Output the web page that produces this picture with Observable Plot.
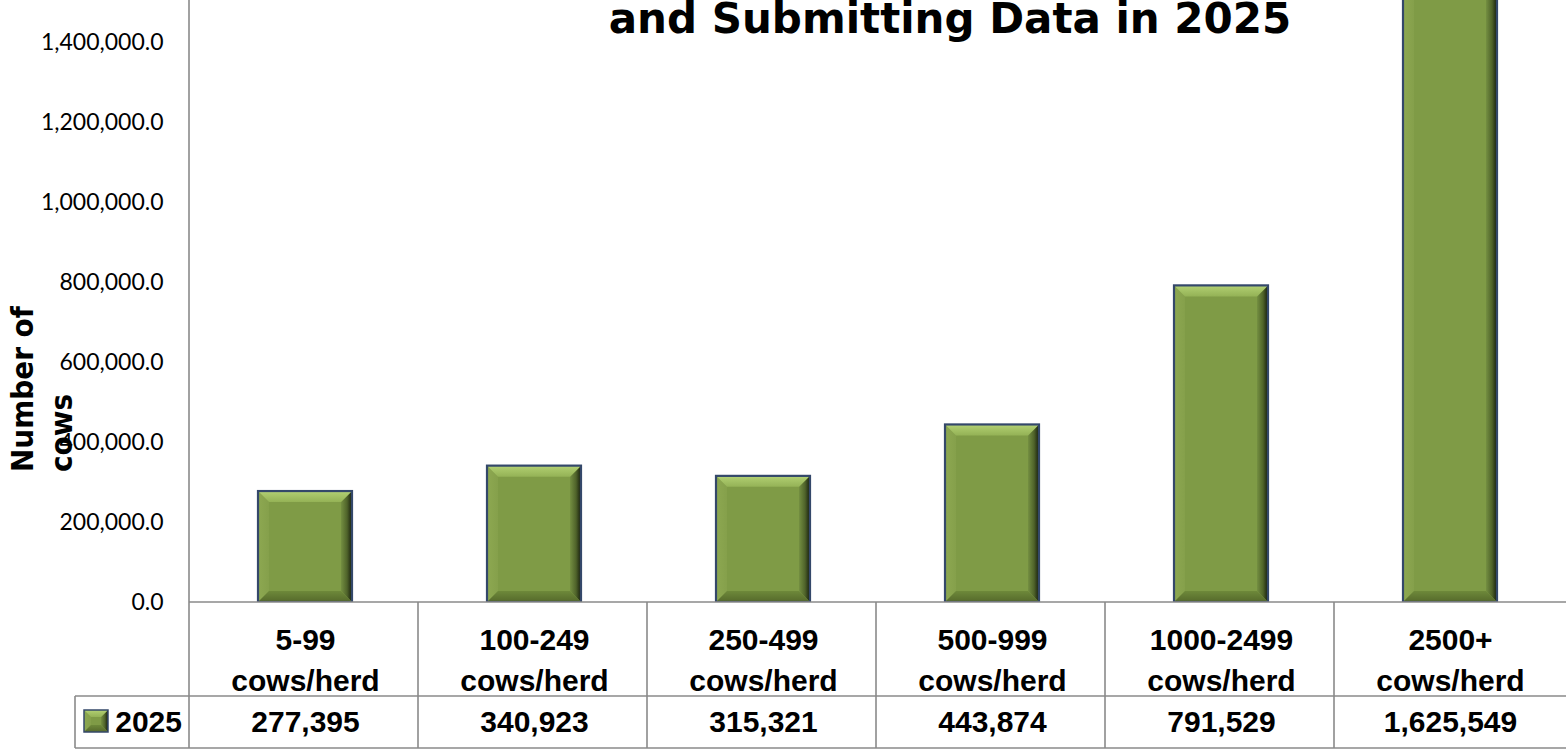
<!DOCTYPE html>
<html><head><meta charset="utf-8">
<script src="https://cdn.jsdelivr.net/npm/d3@7"></script>
<script src="https://cdn.jsdelivr.net/npm/@observablehq/plot@0.6"></script>
<style>
html,body{margin:0;padding:0;background:#fff;overflow:hidden;}
#chart svg{display:block;}
</style></head><body><div id="chart"></div>
<script>
// ---- data ----
const categories = ["5-99 cows/herd", "100-249 cows/herd", "250-499 cows/herd", "500-999 cows/herd", "1000-2499 cows/herd", "2500+ cows/herd"];
const categoryLabels = ["5-99\ncows/herd", "100-249\ncows/herd", "250-499\ncows/herd", "500-999\ncows/herd", "1000-2499\ncows/herd", "2500+\ncows/herd"];
const values2025 = [277395, 340923, 315321, 443874, 791529, 1625549];
const seriesName = "2025";
const yTicks = [0, 200000, 400000, 600000, 800000, 1000000, 1200000, 1400000];
const titleText = "and Submitting Data in 2025";
const yAxisTitle = ["Number of", "cows"];

const data = categories.map((c, i) => ({category: c, label: categoryLabels[i], value: values2025[i]}));
const W = 1566, H = 749;
const fmtTick = d3.format(",.1f"), fmtVal = d3.format(",");
const tableFont = "'Liberation Sans', Arial, sans-serif";

const plot = Plot.plot({
  width: W, height: H,
  marginLeft: 189, marginRight: 0, marginTop: 0, marginBottom: 147,
  style: {background: "#fff", overflow: "hidden"},
  x: {domain: categories, paddingInner: 0.59, paddingOuter: 0.295, axis: null},
  y: {domain: [0, 1505000]},
  marks: [
    Plot.axisY({ticks: yTicks, tickSize: 0, tickPadding: 26, tickFormat: fmtTick, label: null,
      fontSize: 23, fontFamily: "Lato, 'Open Sans', sans-serif", fill: "#000"}),
    Plot.barY(data, {x: "category", y: "value", fill: "#7f9b46", clip: true}),
    Plot.barY(data, {x: "category", y: "value", fill: "none", stroke: "#34486a", strokeWidth: 2.2, clip: true}),
    Plot.text(data, {x: "category", text: "label", frameAnchor: "bottom", lineAnchor: "top", dy: 18, lineHeight: 1.367,
      fontSize: 30, fontWeight: "bold", fontFamily: tableFont, fill: "#000"}),
    Plot.text(data, {x: "category", text: d => fmtVal(d.value), frameAnchor: "bottom", lineAnchor: "middle", dy: 120,
      fontSize: 30, fontWeight: "bold", fontFamily: tableFont, fill: "#000"})
  ]
});

document.getElementById("chart").appendChild(plot);
const svg = d3.select(plot);

// gradients for the bevelled bars
const defs = svg.insert("defs", ":first-child");
function grad(id, vertical, stops) {
  const g = defs.append("linearGradient").attr("id", id)
    .attr("x1", 0).attr("y1", 0).attr("x2", vertical ? 0 : 1).attr("y2", vertical ? 1 : 0);
  stops.forEach(([o, c]) => g.append("stop").attr("offset", o).attr("stop-color", c));
}
grad("bvTop", true, [[0, "#b6d378"], [0.3, "#a9c76a"], [1, "#94b256"]]);
grad("bvRight", false, [[0, "#748f41"], [0.55, "#4f632a"], [1, "#161d0c"]]);
grad("bvBottom", true, [[0, "#6e893a"], [1, "#55692b"]]);
grad("bvLeft", false, [[0, "#8da851"], [1, "#85a04b"]]);

function bevel(parent, x, y, w, h, b) {
  const P = pts => pts.map(p => p.join(",")).join(" ");
  parent.append("polygon").attr("points", P([[x, y], [x + b, y + b], [x + b, y + h - b], [x, y + h]])).attr("fill", "url(#bvLeft)");
  parent.append("polygon").attr("points", P([[x + w, y], [x + w, y + h], [x + w - b, y + h - b], [x + w - b, y + b]])).attr("fill", "url(#bvRight)");
  parent.append("polygon").attr("points", P([[x, y + h], [x + b, y + h - b], [x + w - b, y + h - b], [x + w, y + h]])).attr("fill", "url(#bvBottom)");
  parent.append("polygon").attr("points", P([[x, y], [x + w, y], [x + w - b, y + b], [x + b, y + b]])).attr("fill", "url(#bvTop)");
}

const barG = svg.select('g[aria-label="bar"]');
barG.selectAll("rect").each(function() {
  const r = d3.select(this);
  const x = +r.attr("x"), y = +r.attr("y"), w = +r.attr("width"), h = +r.attr("height");
  bevel(barG, x, y, w, h, 11);
});

// data-table grid, derived from Plot's scales
const sx = plot.scale("x");
const y0 = plot.scale("y").apply(0);
const x0 = sx.range[0], step = sx.step;
const rowTop = y0 + 94, rowBottom = y0 + 146, tableLeft = 75;
const grid = svg.append("g").attr("stroke", "#8a8a8a").attr("stroke-width", 1.6).attr("fill", "none");
grid.append("line").attr("x1", x0).attr("x2", x0).attr("y1", 0).attr("y2", rowBottom);
categories.slice(0, -1).forEach((c, i) => {
  const xe = x0 + (i + 1) * step;
  grid.append("line").attr("x1", xe).attr("x2", xe).attr("y1", y0).attr("y2", rowBottom);
});
grid.append("line").attr("x1", x0).attr("x2", W).attr("y1", y0).attr("y2", y0);
grid.append("line").attr("x1", tableLeft).attr("x2", W).attr("y1", rowTop).attr("y2", rowTop);
grid.append("line").attr("x1", tableLeft).attr("x2", W).attr("y1", rowBottom).attr("y2", rowBottom);
grid.append("line").attr("x1", tableLeft).attr("x2", tableLeft).attr("y1", rowTop).attr("y2", rowBottom);

// legend key + series name in the table
const key = svg.append("g");
key.append("rect").attr("x", 84).attr("y", rowTop + 14).attr("width", 24).attr("height", 22).attr("fill", "#7f9b46");
bevel(key, 84, rowTop + 14, 24, 22, 7);
key.append("rect").attr("x", 84).attr("y", rowTop + 14).attr("width", 24).attr("height", 22)
  .attr("fill", "none").attr("stroke", "#34486a").attr("stroke-width", 1.5);
svg.append("text").attr("x", x0 - 7).attr("y", rowTop + 36).attr("text-anchor", "end")
  .attr("font-family", tableFont).attr("font-weight", "bold").attr("font-size", 30).text(seriesName);

// y-axis title (two lines, rotated)
const yt = svg.append("text").attr("transform", "translate(0,472) rotate(-90)")
  .attr("font-family", "'DejaVu Sans Condensed', 'DejaVu Sans', sans-serif").attr("font-weight", "bold")
  .attr("font-size", 31).attr("text-anchor", "start");
yt.append("tspan").attr("x", 0).attr("y", 33).text(yAxisTitle[0]);
yt.append("tspan").attr("x", 0).attr("y", 72).text(yAxisTitle[1]);

// title (visible lower line)
svg.append("text").attr("x", 950).attr("y", 33).attr("text-anchor", "middle")
  .attr("font-family", "'DejaVu Sans', Verdana, sans-serif").attr("font-weight", "bold").attr("font-size", 42)
  .text(titleText);
</script></body></html>
